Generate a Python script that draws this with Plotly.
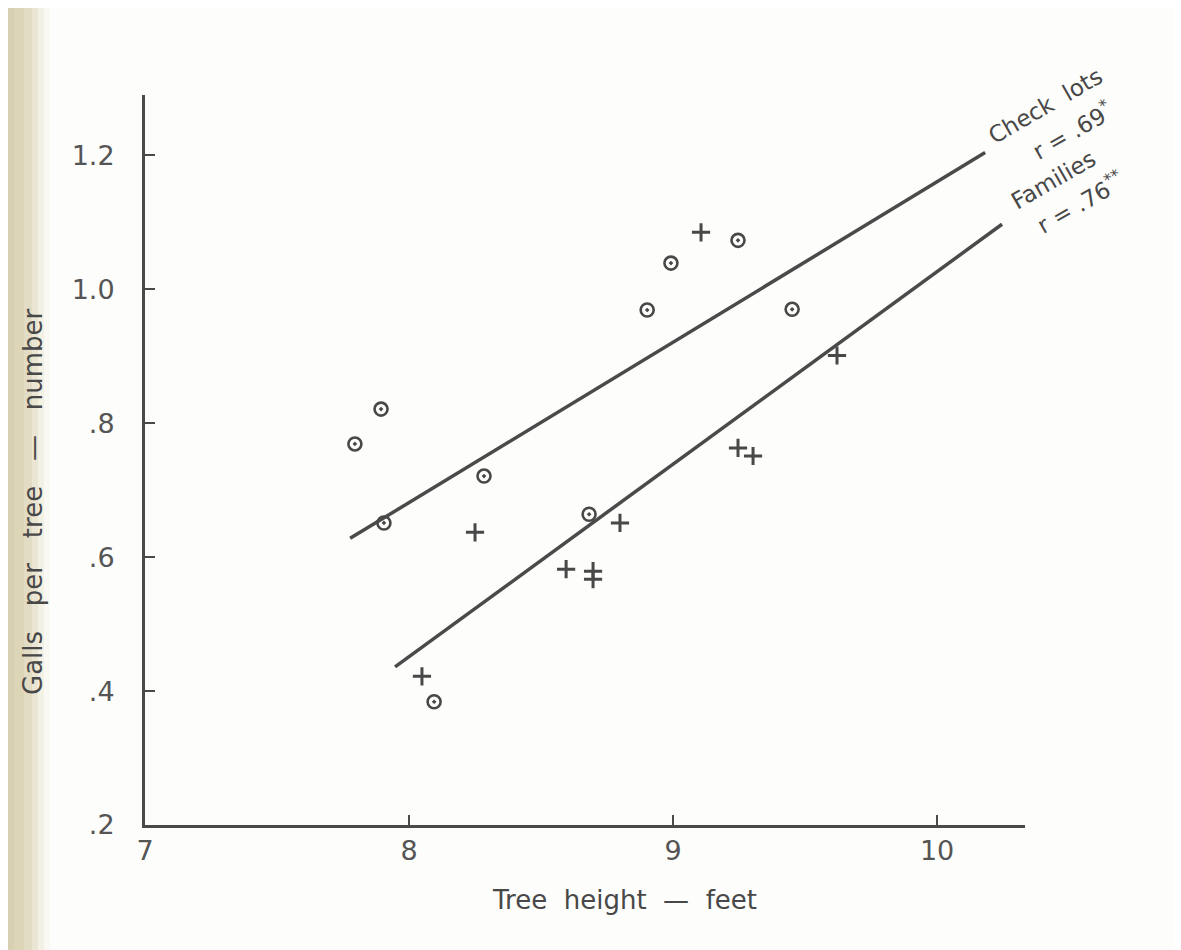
import plotly.graph_objects as go

# ---- data ----
check_x = [7.795, 7.894, 7.905, 8.284, 8.095, 8.682, 8.902, 8.992, 9.246, 9.451]
check_y = [0.769, 0.821, 0.651, 0.721, 0.384, 0.664, 0.969, 1.039, 1.073, 0.970]

fam_x = [9.106, 8.250, 8.049, 8.595, 8.697, 8.697, 8.799, 9.246, 9.303, 9.621]
fam_y = [1.085, 0.637, 0.422, 0.582, 0.579, 0.567, 0.651, 0.763, 0.751, 0.901]

check_line_x = [7.777, 10.182]
check_line_y = [0.628, 1.204]
fam_line_x = [7.947, 10.246]
fam_line_y = [0.436, 1.097]

x_ticks = [7, 8, 9, 10]
x_ticktext = ["7", "8", "9", "10"]
y_ticks = [0.2, 0.4, 0.6, 0.8, 1.0, 1.2]
y_ticktext = [".2", ".4", ".6", ".8", "1.0", "1.2"]

INK = "#484848"
FONT = "DejaVu Sans"

# screen-pixel helpers (page body has an 8px offset)
def px(p):
    return (p - 145) / 880

def py(p):
    return (825 - p) / 730

fig = go.Figure()

fig.add_trace(go.Scatter(x=check_line_x, y=check_line_y, mode="lines",
                         line=dict(color="#4a4a4a", width=3.5), showlegend=False))
fig.add_trace(go.Scatter(x=fam_line_x, y=fam_line_y, mode="lines",
                         line=dict(color="#4a4a4a", width=3.5), showlegend=False))
fig.add_trace(go.Scatter(x=check_x, y=check_y, mode="markers", name="Check lots",
                         marker=dict(symbol="circle-open-dot", size=13,
                                     line=dict(color=INK, width=2.6), color=INK),
                         showlegend=False))
fig.add_trace(go.Scatter(x=fam_x, y=fam_y, mode="markers", name="Families",
                         marker=dict(symbol="cross-thin", size=13,
                                     line=dict(color=INK, width=3)),
                         showlegend=False))

# scanned-page binding shadow on left edge
shadow = [(8, 14, "#d8d0b2"), (14, 24, "#dcd5b8"), (24, 32, "#e3dcc4"),
          (32, 38, "#ebe6d3"), (38, 44, "#f3f0e4"), (44, 50, "#f9f8f2")]
shapes = []
for a, b, c in shadow:
    shapes.append(dict(type="rect", xref="paper", yref="paper",
                       x0=px(a), x1=px(b), y0=py(960), y1=py(0),
                       fillcolor=c, line=dict(width=0), layer="below"))

lab_font = dict(family=FONT, size=23, color=INK)
annotations = [
    dict(text="Tree  height  —  feet", xref="paper", yref="paper",
         x=px(624), y=py(900), showarrow=False, xanchor="center", yanchor="middle",
         font=dict(family=FONT, size=26, color=INK)),
    dict(text="Galls   per   tree   —   number", xref="paper", yref="paper",
         x=px(33), y=py(502), showarrow=False, textangle=-90,
         xanchor="center", yanchor="middle",
         font=dict(family=FONT, size=26, color=INK)),
    dict(text="Check  lots", xref="paper", yref="paper", x=px(1045), y=py(106),
         showarrow=False, textangle=-30, xanchor="center", yanchor="middle", font=lab_font),
    dict(text="r = .69<sup>*</sup>", xref="paper", yref="paper", x=px(1072), y=py(130),
         showarrow=False, textangle=-30, xanchor="center", yanchor="middle", font=lab_font),
    dict(text="Families", xref="paper", yref="paper", x=px(1053), y=py(180),
         showarrow=False, textangle=-30, xanchor="center", yanchor="middle", font=lab_font),
    dict(text="r = .76<sup>**</sup>", xref="paper", yref="paper", x=px(1080), y=py(202),
         showarrow=False, textangle=-30, xanchor="center", yanchor="middle", font=lab_font),
]

fig.update_layout(
    width=1181, height=950,
    margin=dict(l=137, r=164, t=87, b=133),
    paper_bgcolor="#fdfdfb", plot_bgcolor="rgba(0,0,0,0)",
    shapes=shapes, annotations=annotations,
    font=dict(family=FONT, color=INK),
)
fig.update_xaxes(range=[7, 10.333], tickvals=x_ticks, ticktext=x_ticktext,
                 showgrid=False, zeroline=False, showline=True,
                 linecolor="#4a4a4a", linewidth=3, ticks="inside", ticklen=10,
                 tickwidth=2, tickcolor="#4a4a4a",
                 tickfont=dict(family=FONT, size=27, color="#555555"))
fig.update_yaxes(range=[0.2, 1.29], tickvals=y_ticks, ticktext=y_ticktext,
                 showgrid=False, zeroline=False, showline=True,
                 linecolor="#4a4a4a", linewidth=3, ticks="inside", ticklen=10,
                 tickwidth=2, tickcolor="#4a4a4a", ticklabelstandoff=22,
                 tickfont=dict(family=FONT, size=27, color="#555555"))

fig.write_html("out.html")
